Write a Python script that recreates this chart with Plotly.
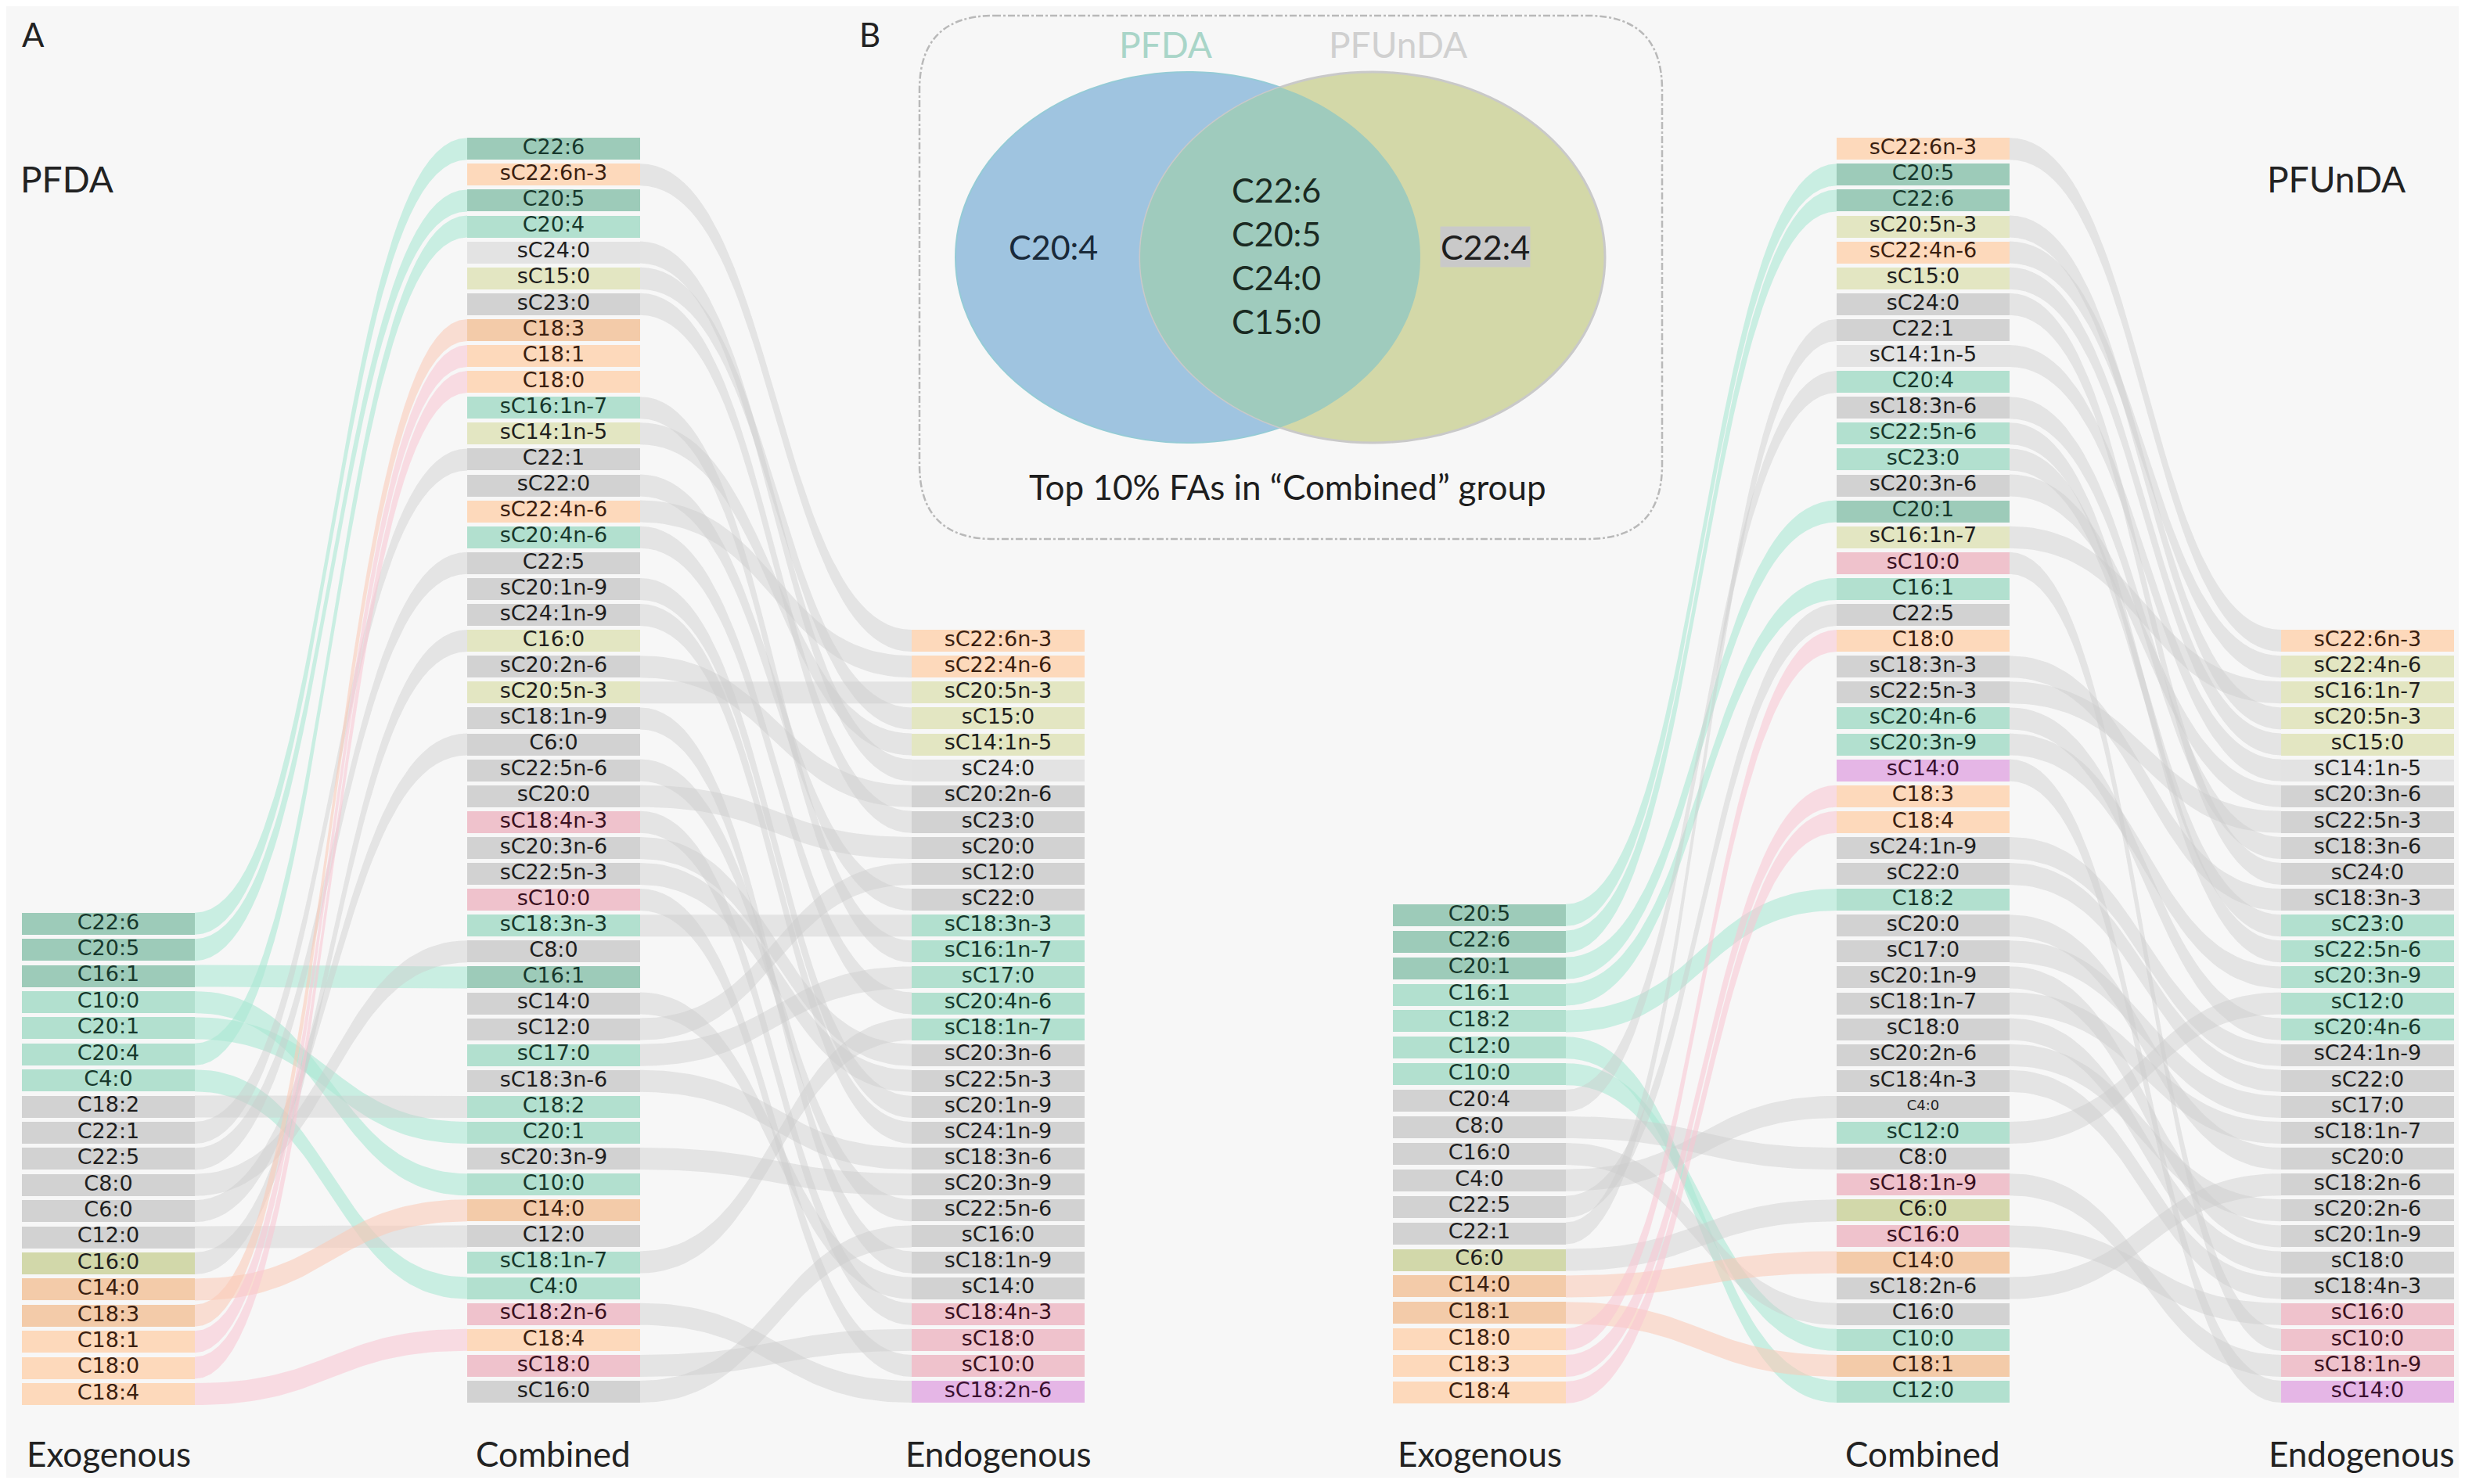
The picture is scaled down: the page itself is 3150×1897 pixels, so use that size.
import numpy as np
import plotly.graph_objects as go

W, H = 3150, 1897
PAGE_PAD = 8  # default body margin of the html page

# ---------------- data ----------------
# colour codes: T dark teal, t teal, g grey, l light grey, y yellow-green,
# o olive, P dark peach, p peach, k pink, m magenta
pfda_exo = ["C22:6", "C20:5", "C16:1", "C10:0", "C20:1", "C20:4", "C4:0", "C18:2", "C22:1", "C22:5",
            "C8:0", "C6:0", "C12:0", "C16:0", "C14:0", "C18:3", "C18:1", "C18:0", "C18:4"]
pfda_exo_col = ["T", "T", "T", "t", "t", "t", "t", "g", "g", "g",
                "g", "g", "g", "o", "P", "P", "p", "p", "p"]

pfda_comb = ["C22:6", "sC22:6n-3", "C20:5", "C20:4", "sC24:0", "sC15:0", "sC23:0", "C18:3", "C18:1", "C18:0",
             "sC16:1n-7", "sC14:1n-5", "C22:1", "sC22:0", "sC22:4n-6", "sC20:4n-6", "C22:5", "sC20:1n-9",
             "sC24:1n-9", "C16:0", "sC20:2n-6", "sC20:5n-3", "sC18:1n-9", "C6:0", "sC22:5n-6", "sC20:0",
             "sC18:4n-3", "sC20:3n-6", "sC22:5n-3", "sC10:0", "sC18:3n-3", "C8:0", "C16:1", "sC14:0",
             "sC12:0", "sC17:0", "sC18:3n-6", "C18:2", "C20:1", "sC20:3n-9", "C10:0", "C14:0", "C12:0",
             "sC18:1n-7", "C4:0", "sC18:2n-6", "C18:4", "sC18:0", "sC16:0"]
pfda_comb_col = ["T", "p", "T", "t", "l", "y", "g", "P", "p", "p",
                 "t", "y", "g", "g", "p", "t", "g", "g",
                 "g", "y", "g", "y", "g", "g", "g", "g",
                 "k", "g", "g", "k", "t", "g", "T", "g",
                 "g", "t", "g", "t", "t", "g", "t", "P", "g",
                 "t", "t", "k", "p", "k", "g"]

pfda_endo = ["sC22:6n-3", "sC22:4n-6", "sC20:5n-3", "sC15:0", "sC14:1n-5", "sC24:0", "sC20:2n-6", "sC23:0",
             "sC20:0", "sC12:0", "sC22:0", "sC18:3n-3", "sC16:1n-7", "sC17:0", "sC20:4n-6", "sC18:1n-7",
             "sC20:3n-6", "sC22:5n-3", "sC20:1n-9", "sC24:1n-9", "sC18:3n-6", "sC20:3n-9", "sC22:5n-6",
             "sC16:0", "sC18:1n-9", "sC14:0", "sC18:4n-3", "sC18:0", "sC10:0", "sC18:2n-6"]
pfda_endo_col = ["p", "p", "y", "y", "y", "l", "g", "g",
                 "g", "g", "g", "t", "t", "t", "t", "t",
                 "g", "g", "g", "g", "g", "g", "g",
                 "g", "g", "g", "k", "k", "k", "m"]

pfunda_exo = ["C20:5", "C22:6", "C20:1", "C16:1", "C18:2", "C12:0", "C10:0", "C20:4", "C8:0", "C16:0",
              "C4:0", "C22:5", "C22:1", "C6:0", "C14:0", "C18:1", "C18:0", "C18:3", "C18:4"]
pfunda_exo_col = ["T", "T", "T", "t", "t", "t", "t", "g", "g", "g",
                  "g", "g", "g", "o", "P", "P", "p", "p", "p"]

pfunda_comb = ["sC22:6n-3", "C20:5", "C22:6", "sC20:5n-3", "sC22:4n-6", "sC15:0", "sC24:0", "C22:1",
               "sC14:1n-5", "C20:4", "sC18:3n-6", "sC22:5n-6", "sC23:0", "sC20:3n-6", "C20:1", "sC16:1n-7",
               "sC10:0", "C16:1", "C22:5", "C18:0", "sC18:3n-3", "sC22:5n-3", "sC20:4n-6", "sC20:3n-9",
               "sC14:0", "C18:3", "C18:4", "sC24:1n-9", "sC22:0", "C18:2", "sC20:0", "sC17:0", "sC20:1n-9",
               "sC18:1n-7", "sC18:0", "sC20:2n-6", "sC18:4n-3", "C4:0", "sC12:0", "C8:0", "sC18:1n-9",
               "C6:0", "sC16:0", "C14:0", "sC18:2n-6", "C16:0", "C10:0", "C18:1", "C12:0"]
pfunda_comb_col = ["p", "T", "T", "y", "p", "y", "g", "g",
                   "l", "t", "g", "t", "t", "g", "T", "y",
                   "k", "t", "g", "p", "g", "g", "t", "t",
                   "m", "p", "p", "g", "g", "t", "g", "g", "g",
                   "g", "g", "g", "g", "g", "t", "g", "k",
                   "o", "k", "P", "g", "g", "t", "P", "t"]

pfunda_endo = ["sC22:6n-3", "sC22:4n-6", "sC16:1n-7", "sC20:5n-3", "sC15:0", "sC14:1n-5", "sC20:3n-6",
               "sC22:5n-3", "sC18:3n-6", "sC24:0", "sC18:3n-3", "sC23:0", "sC22:5n-6", "sC20:3n-9", "sC12:0",
               "sC20:4n-6", "sC24:1n-9", "sC22:0", "sC17:0", "sC18:1n-7", "sC20:0", "sC18:2n-6", "sC20:2n-6",
               "sC20:1n-9", "sC18:0", "sC18:4n-3", "sC16:0", "sC10:0", "sC18:1n-9", "sC14:0"]
pfunda_endo_col = ["p", "y", "y", "y", "y", "l", "g",
                   "g", "g", "g", "g", "t", "t", "t", "t",
                   "t", "g", "g", "g", "g", "g", "g", "g",
                   "g", "g", "g", "k", "k", "k", "m"]

small_labels = {"PFUnDA": ["C4:0"]}

column_names = ["Exogenous", "Combined", "Endogenous"]

venn_sets = ["PFDA", "PFUnDA"]
venn_only_pfda = ["C20:4"]
venn_shared = ["C22:6", "C20:5", "C24:0", "C15:0"]
venn_only_pfunda = ["C22:4"]
venn_caption = "Top 10% FAs in \u201cCombined\u201d group"

# ---------------- styling ----------------
BOX = {"T": "#9dcbb9", "t": "#b2e0cf", "g": "#d2d2d2", "l": "#e3e3e3", "y": "#e3e6c2",
       "o": "#d2d8aa", "P": "#f3cba9", "p": "#fdd9bb", "k": "#efc2cc", "m": "#e5b6e6"}
TXT_ON = {"T": "#17382c", "t": "#17382c", "P": "#3a2010", "p": "#3a2010", "k": "#3a1020", "m": "#3a1030"}
LINK = {"T": "rgba(170,232,212,0.6)", "t": "rgba(170,232,212,0.6)",
        "P": "rgba(252,200,180,0.55)", "p": "rgba(250,196,210,0.55)"}
LINK_GREY = "rgba(205,205,205,0.45)"

PITCH, BOX_H = 33.1, 28
BOX_FONT = "DejaVu Sans"
TXT_FONT = "Lato"

panels = [
    dict(name="PFDA", cols=[(28, 249), (597, 818), (1165, 1386)],
         pitch=[33.4, PITCH, PITCH], bottom=[1782, 1779, 1779],
         nodes=[pfda_exo, pfda_comb, pfda_endo], colors=[pfda_exo_col, pfda_comb_col, pfda_endo_col],
         label_x=[139, 707, 1276], title_x=24, title_anchor="left"),
    dict(name="PFUnDA", cols=[(1780, 2001), (2347, 2568), (2915, 3136)],
         pitch=[33.9, PITCH, PITCH], bottom=[1780, 1779, 1779],
         nodes=[pfunda_exo, pfunda_comb, pfunda_endo], colors=[pfunda_exo_col, pfunda_comb_col, pfunda_endo_col],
         label_x=[1891, 2457, 3018], title_x=3076, title_anchor="right"),
]


def row_y(p, c, i):
    n = len(p["nodes"][c])
    return p["bottom"][c] - (n - 1 - i) * p["pitch"][c]


def band(x0, y0, x1, y1, h):
    t = np.linspace(0, 1, 50)
    xm = (x0 + x1) / 2
    bx = (1 - t) ** 3 * x0 + 3 * (1 - t) ** 2 * t * xm + 3 * (1 - t) * t ** 2 * xm + t ** 3 * x1
    w = 3 * (1 - t) * t ** 2 + t ** 3
    by = y0 + (y1 - y0) * w
    xs = np.concatenate([bx, bx[::-1], bx[:1]])
    ys = np.concatenate([by - h / 2, (by + h / 2)[::-1], by[:1] - h / 2])
    return xs, ys


fig = go.Figure()

# links
for p in panels:
    exo, comb, endo = p["nodes"]
    exo_c = p["colors"][0]
    (lx0, lx1), (mx0, mx1), (rx0, rx1) = p["cols"]
    for i, fa in enumerate(exo):
        j = comb.index(fa)
        xs, ys = band(lx1, row_y(p, 0, i), mx0, row_y(p, 1, j), BOX_H)
        fig.add_trace(go.Scatter(x=xs, y=ys, fill="toself", mode="lines", line=dict(width=0),
                                 fillcolor=LINK.get(exo_c[i], LINK_GREY), hoverinfo="skip", showlegend=False))
    for k, fa in enumerate(endo):
        j = comb.index(fa)
        xs, ys = band(mx1, row_y(p, 1, j), rx0, row_y(p, 2, k), BOX_H)
        fig.add_trace(go.Scatter(x=xs, y=ys, fill="toself", mode="lines", line=dict(width=0),
                                 fillcolor=LINK_GREY, hoverinfo="skip", showlegend=False))

# node boxes and labels
for p in panels:
    small = small_labels.get(p["name"], [])
    for c, (names, cols) in enumerate(zip(p["nodes"], p["colors"])):
        x0, x1 = p["cols"][c]
        n = len(names)
        ys = [row_y(p, c, i) for i in range(n)]
        fig.add_trace(go.Bar(y=ys, x=[x1 - x0] * n, base=x0, orientation="h", width=BOX_H,
                             marker=dict(color=[BOX[k] for k in cols], line=dict(width=0)),
                             hoverinfo="skip", showlegend=False))
        sizes = [18 if (c == 1 and s in small) else 27 for s in names]
        fig.add_trace(go.Scatter(x=[(x0 + x1) / 2] * n, y=ys, mode="text", text=names,
                                 textfont=dict(family=BOX_FONT, size=sizes,
                                               color=[TXT_ON.get(k, "#1e1e1e") for k in cols]),
                                 hoverinfo="skip", showlegend=False))
        fig.add_annotation(x=p["label_x"][c], y=1858, text=column_names[c], showarrow=False, borderpad=0,
                           font=dict(family=TXT_FONT, size=44, color="#222222"))
    fig.add_annotation(x=p["title_x"], y=228, text=p["name"], showarrow=False, xanchor=p["title_anchor"],
                       font=dict(family=TXT_FONT, size=46, color="#222222"))

# panel letters
fig.add_annotation(x=26, y=44, text="A", showarrow=False, xanchor="left",
                   font=dict(family=TXT_FONT, size=42, color="#222222"))
fig.add_annotation(x=1096, y=44, text="B", showarrow=False, xanchor="left",
                   font=dict(family=TXT_FONT, size=42, color="#222222"))

# ---------------- Venn (panel B) ----------------
bx0, bx1, by0, by1, r = 1175, 2124, 20, 689, 95
frame = (f"M {bx0 + r},{by0} L {bx1 - r},{by0} Q {bx1},{by0} {bx1},{by0 + r} "
         f"L {bx1},{by1 - r} Q {bx1},{by1} {bx1 - r},{by1} L {bx0 + r},{by1} "
         f"Q {bx0},{by1} {bx0},{by1 - r} L {bx0},{by0 + r} Q {bx0},{by0} {bx0 + r},{by0} Z")
shapes = [dict(type="path", path=frame, xref="x", yref="y",
               line=dict(color="#b9b9b9", width=2.5, dash="dashdot"), layer="below")]

cy, erx, ery = 329, 297, 237
cx_l, cx_r = 1518, 1754
shapes.append(dict(type="circle", xref="x", yref="y", x0=cx_l - erx, x1=cx_l + erx, y0=cy - ery, y1=cy + ery,
                   fillcolor="#9fc4e0", line=dict(color="#95cbd6", width=2)))
shapes.append(dict(type="circle", xref="x", yref="y", x0=cx_r - erx, x1=cx_r + erx, y0=cy - ery, y1=cy + ery,
                   fillcolor="#d3d8a8", line=dict(color="#c9c9c9", width=3)))
# lens (overlap) between the two ellipses
ta = np.arccos(((cx_l + cx_r) / 2 - cx_l) / erx)
t1 = np.linspace(-ta, ta, 60)
t2 = np.linspace(np.pi - ta, np.pi + ta, 60)
lx = np.concatenate([cx_l + erx * np.cos(t1), cx_r + erx * np.cos(t2)])
ly = np.concatenate([cy + ery * np.sin(t1), cy - ery * np.sin(t2)])
lens = "M " + " L ".join(f"{a:.1f},{b:.1f}" for a, b in zip(lx, ly)) + " Z"
shapes.append(dict(type="path", path=lens, xref="x", yref="y", fillcolor="#9fcbbd", line=dict(width=0)))

fig.add_annotation(x=1489, y=56, text=venn_sets[0], showarrow=False,
                   font=dict(family=TXT_FONT, size=46, color="#a9d5c8"))
fig.add_annotation(x=1786, y=56, text=venn_sets[1], showarrow=False,
                   font=dict(family=TXT_FONT, size=46, color="#d0d0d0"))
fig.add_annotation(x=1346, y=315, text="<br>".join(venn_only_pfda), showarrow=False,
                   font=dict(family=TXT_FONT, size=43, color="#1a2a3a"))
fig.add_annotation(x=1898, y=315, text="<br>".join(venn_only_pfunda), showarrow=False, bgcolor="#c9c9c9",
                   borderpad=0, font=dict(family=TXT_FONT, size=43, color="#1e1e1e"))
for k, fa in enumerate(venn_shared):
    fig.add_annotation(x=1631, y=326 + (k - (len(venn_shared) - 1) / 2) * 56, text=fa, showarrow=False,
                       font=dict(family=TXT_FONT, size=43, color="#1a2a22"))
fig.add_annotation(x=1645, y=622, text=venn_caption, showarrow=False,
                   font=dict(family=TXT_FONT, size=44, color="#1e1e1e"))

# data units equal screen pixels once the page margin is taken into account
fig.update_layout(
    width=W - 2 * PAGE_PAD, height=H - 2 * PAGE_PAD, margin=dict(l=0, r=0, t=0, b=0),
    paper_bgcolor="#f7f7f7", plot_bgcolor="#f7f7f7",
    barmode="overlay", bargap=0, shapes=shapes, showlegend=False,
    xaxis=dict(range=[PAGE_PAD, W - PAGE_PAD], visible=False, fixedrange=True),
    yaxis=dict(range=[H - PAGE_PAD, PAGE_PAD], visible=False, fixedrange=True),
)

fig.write_html("out.html")
